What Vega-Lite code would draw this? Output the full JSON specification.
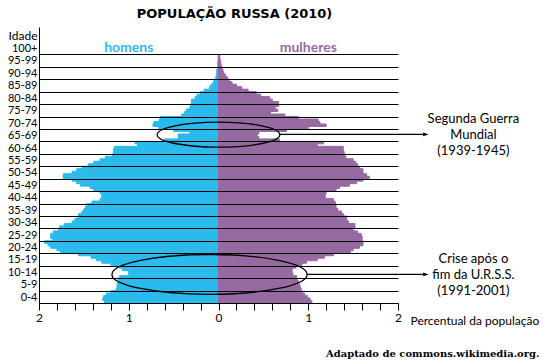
{
  "$schema": "https://vega.github.io/schema/vega-lite/v6.json",
  "autosize": "none",
  "width": 359,
  "height": 276,
  "padding": {"left": 39, "top": 27, "right": 148, "bottom": 60},
  "background": "white",
  "config": {"view": {"stroke": null}, "font": "Lato"},
  "title": {
    "text": "POPULAÇÃO RUSSA (2010)",
    "anchor": "middle",
    "dx": 16,
    "offset": 6,
    "font": "DejaVu Sans",
    "fontSize": 13,
    "fontWeight": "bold",
    "color": "black"
  },
  "datasets": {
    "pop": [
      {"age": 0, "homens": 1.27, "mulheres": 1.04},
      {"age": 1, "homens": 1.29, "mulheres": 1.02},
      {"age": 2, "homens": 1.28, "mulheres": 0.99},
      {"age": 3, "homens": 1.25, "mulheres": 0.96},
      {"age": 4, "homens": 1.2, "mulheres": 0.93},
      {"age": 5, "homens": 1.14, "mulheres": 0.92},
      {"age": 6, "homens": 1.13, "mulheres": 0.91},
      {"age": 7, "homens": 1.13, "mulheres": 0.9},
      {"age": 8, "homens": 1.12, "mulheres": 0.89},
      {"age": 9, "homens": 1.12, "mulheres": 0.88},
      {"age": 10, "homens": 1.1, "mulheres": 0.87},
      {"age": 11, "homens": 1.0, "mulheres": 0.83},
      {"age": 12, "homens": 1.0, "mulheres": 0.82},
      {"age": 13, "homens": 1.07, "mulheres": 0.82},
      {"age": 14, "homens": 1.1, "mulheres": 0.86},
      {"age": 15, "homens": 1.2, "mulheres": 0.93},
      {"age": 16, "homens": 1.3, "mulheres": 0.98},
      {"age": 17, "homens": 1.36, "mulheres": 1.1},
      {"age": 18, "homens": 1.42, "mulheres": 1.18},
      {"age": 19, "homens": 1.56, "mulheres": 1.28},
      {"age": 20, "homens": 1.76, "mulheres": 1.47},
      {"age": 21, "homens": 1.8, "mulheres": 1.5},
      {"age": 22, "homens": 1.87, "mulheres": 1.57},
      {"age": 23, "homens": 1.9, "mulheres": 1.61},
      {"age": 24, "homens": 1.94, "mulheres": 1.61},
      {"age": 25, "homens": 1.85, "mulheres": 1.6},
      {"age": 26, "homens": 1.87, "mulheres": 1.6},
      {"age": 27, "homens": 1.87, "mulheres": 1.59},
      {"age": 28, "homens": 1.84, "mulheres": 1.55},
      {"age": 29, "homens": 1.78, "mulheres": 1.5},
      {"age": 30, "homens": 1.77, "mulheres": 1.52},
      {"age": 31, "homens": 1.72, "mulheres": 1.52},
      {"age": 32, "homens": 1.63, "mulheres": 1.45},
      {"age": 33, "homens": 1.6, "mulheres": 1.43},
      {"age": 34, "homens": 1.57, "mulheres": 1.43},
      {"age": 35, "homens": 1.56, "mulheres": 1.39},
      {"age": 36, "homens": 1.52, "mulheres": 1.37},
      {"age": 37, "homens": 1.5, "mulheres": 1.33},
      {"age": 38, "homens": 1.48, "mulheres": 1.31},
      {"age": 39, "homens": 1.47, "mulheres": 1.31},
      {"age": 40, "homens": 1.41, "mulheres": 1.3},
      {"age": 41, "homens": 1.32, "mulheres": 1.28},
      {"age": 42, "homens": 1.3, "mulheres": 1.19},
      {"age": 43, "homens": 1.3, "mulheres": 1.19},
      {"age": 44, "homens": 1.32, "mulheres": 1.2},
      {"age": 45, "homens": 1.39, "mulheres": 1.31},
      {"age": 46, "homens": 1.43, "mulheres": 1.35},
      {"age": 47, "homens": 1.54, "mulheres": 1.46},
      {"age": 48, "homens": 1.58, "mulheres": 1.54},
      {"age": 49, "homens": 1.63, "mulheres": 1.61},
      {"age": 50, "homens": 1.73, "mulheres": 1.68},
      {"age": 51, "homens": 1.73, "mulheres": 1.65},
      {"age": 52, "homens": 1.63, "mulheres": 1.61},
      {"age": 53, "homens": 1.58, "mulheres": 1.61},
      {"age": 54, "homens": 1.52, "mulheres": 1.57},
      {"age": 55, "homens": 1.45, "mulheres": 1.55},
      {"age": 56, "homens": 1.39, "mulheres": 1.53},
      {"age": 57, "homens": 1.32, "mulheres": 1.5},
      {"age": 58, "homens": 1.26, "mulheres": 1.42},
      {"age": 59, "homens": 1.18, "mulheres": 1.41},
      {"age": 60, "homens": 1.17, "mulheres": 1.4},
      {"age": 61, "homens": 1.17, "mulheres": 1.39},
      {"age": 62, "homens": 1.16, "mulheres": 1.39},
      {"age": 63, "homens": 0.9, "mulheres": 1.1},
      {"age": 64, "homens": 0.93, "mulheres": 1.17},
      {"age": 65, "homens": 0.6, "mulheres": 0.68},
      {"age": 66, "homens": 0.45, "mulheres": 0.45},
      {"age": 67, "homens": 0.45, "mulheres": 0.43},
      {"age": 68, "homens": 0.32, "mulheres": 0.45},
      {"age": 69, "homens": 0.5, "mulheres": 0.76},
      {"age": 70, "homens": 0.67, "mulheres": 1.0},
      {"age": 71, "homens": 0.73, "mulheres": 1.2},
      {"age": 72, "homens": 0.72, "mulheres": 1.13},
      {"age": 73, "homens": 0.66, "mulheres": 1.11},
      {"age": 74, "homens": 0.65, "mulheres": 0.89},
      {"age": 75, "homens": 0.41, "mulheres": 0.74},
      {"age": 76, "homens": 0.38, "mulheres": 0.58},
      {"age": 77, "homens": 0.36, "mulheres": 0.66},
      {"age": 78, "homens": 0.32, "mulheres": 0.63},
      {"age": 79, "homens": 0.31, "mulheres": 0.67},
      {"age": 80, "homens": 0.3, "mulheres": 0.67},
      {"age": 81, "homens": 0.3, "mulheres": 0.6},
      {"age": 82, "homens": 0.26, "mulheres": 0.57},
      {"age": 83, "homens": 0.24, "mulheres": 0.47},
      {"age": 84, "homens": 0.2, "mulheres": 0.42},
      {"age": 85, "homens": 0.16, "mulheres": 0.33},
      {"age": 86, "homens": 0.1, "mulheres": 0.26},
      {"age": 87, "homens": 0.085, "mulheres": 0.2},
      {"age": 88, "homens": 0.06, "mulheres": 0.15},
      {"age": 89, "homens": 0.05, "mulheres": 0.12},
      {"age": 90, "homens": 0.03, "mulheres": 0.1},
      {"age": 91, "homens": 0.025, "mulheres": 0.08},
      {"age": 92, "homens": 0.02, "mulheres": 0.06},
      {"age": 93, "homens": 0.02, "mulheres": 0.05},
      {"age": 94, "homens": 0.01, "mulheres": 0.04},
      {"age": 95, "homens": 0.01, "mulheres": 0.03},
      {"age": 96, "homens": 0.01, "mulheres": 0.025},
      {"age": 97, "homens": 0.005, "mulheres": 0.02},
      {"age": 98, "homens": 0.005, "mulheres": 0.015},
      {"age": 99, "homens": 0.003, "mulheres": 0.01}
    ],
    "ellipses": [
      {"nome": "guerra", "x": 0.0, "age": 67.7},
      {"nome": "crise", "x": -0.1, "age": 11.5}
    ],
    "arrows": [
      {"nome": "guerra", "xini": 0.683, "x": 2.31, "age": 67.8},
      {"nome": "crise", "xini": 0.987, "x": 2.31, "age": 11.5}
    ],
    "notes": [
      {"x": 2.84, "age": 67.7, "texto": "Segunda Guerra\nMundial\n(1939-1945)"},
      {"x": 2.84, "age": 11.3, "texto": "Crise após o\nfim da U.R.S.S.\n(1991-2001)"}
    ],
    "sexos": [
      {"x": -1, "age": 102.6, "sexo": "homens"},
      {"x": 1, "age": 102.6, "sexo": "mulheres"}
    ],
    "fonte": [
      {"x": 3.577, "age": -20.6, "texto": "Adaptado de commons.wikimedia.org."}
    ]
  },
  "encoding": {
    "x": {
      "field": "x", "type": "quantitative",
      "scale": {"domain": [-2, 2], "nice": false, "zero": false},
      "axis": {
        "values": [-2, -1.8, -1.6, -1.4, -1.2, -1, -0.8, -0.6, -0.4, -0.2, 0, 0.2, 0.4, 0.6, 0.8, 1, 1.2, 1.4, 1.6, 1.8, 2],
        "labelExpr": "(abs(datum.value) % 1 < 0.001 || abs(datum.value) % 1 > 0.999) ? format(abs(datum.value), 'd') : ''",
        "grid": false,
        "domainColor": "black",
        "domainWidth": 1,
        "tickColor": "black",
        "tickWidth": 1,
        "tickSize": 7,
        "labelFont": "Lato",
        "labelFontSize": 12,
        "labelColor": "black",
        "labelPadding": 2,
        "labelFlush": false,
        "labelOverlap": false,
        "title": "Percentual da população",
        "titleX": 371,
        "titleY": 17,
        "titleAlign": "left",
        "titleBaseline": "middle",
        "titleFont": "Lato",
        "titleFontSize": 12,
        "titleFontWeight": "normal",
        "titleColor": "black",
        "zindex": 1
      }
    },
    "y": {
      "field": "age", "type": "quantitative",
      "scale": {"domain": [0, 111], "nice": false, "zero": false},
      "axis": {
        "values": [0, 5, 10, 15, 20, 25, 30, 35, 40, 45, 50, 55, 60, 65, 70, 75, 80, 85, 90, 95, 100],
        "labelExpr": "datum.value >= 100 ? '100+' : datum.value + '-' + (datum.value + 4)",
        "labelOffset": -5.8,
        "grid": true,
        "gridColor": "black",
        "gridWidth": 1.1,
        "gridOpacity": 1,
        "ticks": false,
        "tickSize": 0,
        "labelPadding": 2,
        "labelFont": "Lato",
        "labelFontSize": 11,
        "labelColor": "black",
        "labelFlush": false,
        "labelOverlap": false,
        "labelBound": false,
        "domainColor": "black",
        "domainWidth": 1,
        "title": "Idade",
        "titleAngle": 0,
        "titleAlign": "right",
        "titleBaseline": "middle",
        "titleX": -2,
        "titleY": 8,
        "titleFont": "Lato",
        "titleFontSize": 12,
        "titleFontWeight": "normal",
        "titleColor": "black",
        "zindex": 1
      }
    }
  },
  "layer": [
    {
      "data": {"name": "pop"},
      "transform": [
        {"fold": ["homens", "mulheres"], "as": ["sexo", "pct"]},
        {"calculate": "datum.sexo == 'homens' ? -datum.pct : datum.pct", "as": "x"},
        {"calculate": "datum.age + 1", "as": "age_top"}
      ],
      "mark": {"type": "rect", "strokeWidth": 1},
      "encoding": {
        "x2": {"datum": 0},
        "y2": {"field": "age_top"},
        "color": {
          "field": "sexo", "type": "nominal",
          "scale": {"domain": ["homens", "mulheres"], "range": ["#2ABBEC", "#966AA1"]},
          "legend": null
        },
        "stroke": {
          "field": "sexo", "type": "nominal",
          "scale": {"domain": ["homens", "mulheres"], "range": ["#2ABBEC", "#966AA1"]},
          "legend": null
        }
      }
    },
    {
      "data": {"name": "ellipses"},
      "transform": [{"filter": "datum.nome == 'guerra'"}],
      "mark": {
        "type": "point",
        "shape": "M-1,0C-1,-0.1127,-0.5523,-0.204,0,-0.204C0.5523,-0.204,1,-0.1127,1,0C1,0.1127,0.5523,0.204,0,0.204C-0.5523,0.204,-1,0.1127,-1,0Z",
        "size": 15030,
        "filled": false,
        "stroke": "black",
        "strokeWidth": 1.3,
        "opacity": 1
      }
    },
    {
      "data": {"name": "ellipses"},
      "transform": [{"filter": "datum.nome == 'crise'"}],
      "mark": {
        "type": "point",
        "shape": "M-1,0C-1,-0.1127,-0.5523,-0.204,0,-0.204C0.5523,-0.204,1,-0.1127,1,0C1,0.1127,0.5523,0.204,0,0.204C-0.5523,0.204,-1,0.1127,-1,0Z",
        "size": 38100,
        "filled": false,
        "stroke": "black",
        "strokeWidth": 1.3,
        "opacity": 1
      }
    },
    {
      "data": {"name": "arrows"},
      "mark": {"type": "rule", "color": "black", "strokeWidth": 1.1},
      "encoding": {
        "x2": {"field": "xini"}
      }
    },
    {
      "data": {"name": "arrows"},
      "mark": {
        "type": "point",
        "shape": "M1,0L-1,-0.7L-1,0.7Z",
        "size": 30,
        "filled": true,
        "color": "black",
        "opacity": 1
      }
    },
    {
      "data": {"name": "notes"},
      "mark": {
        "type": "text",
        "font": "Lato",
        "fontSize": 13,
        "align": "center",
        "baseline": "middle",
        "lineBreak": "\n",
        "lineHeight": 16,
        "dy": -16,
        "color": "black"
      },
      "encoding": {
        "text": {"field": "texto"}
      }
    },
    {
      "data": {"name": "sexos"},
      "mark": {
        "type": "text",
        "font": "Lato",
        "fontSize": 14,
        "fontWeight": "bold",
        "align": "center",
        "baseline": "middle"
      },
      "encoding": {
        "text": {"field": "sexo"},
        "color": {"field": "sexo", "type": "nominal", "legend": null}
      }
    },
    {
      "data": {"name": "fonte"},
      "mark": {
        "type": "text",
        "font": "DejaVu Serif",
        "fontSize": 10,
        "fontWeight": "bold",
        "align": "right",
        "baseline": "middle",
        "color": "black"
      },
      "encoding": {
        "text": {"field": "texto"}
      }
    }
  ]
}
